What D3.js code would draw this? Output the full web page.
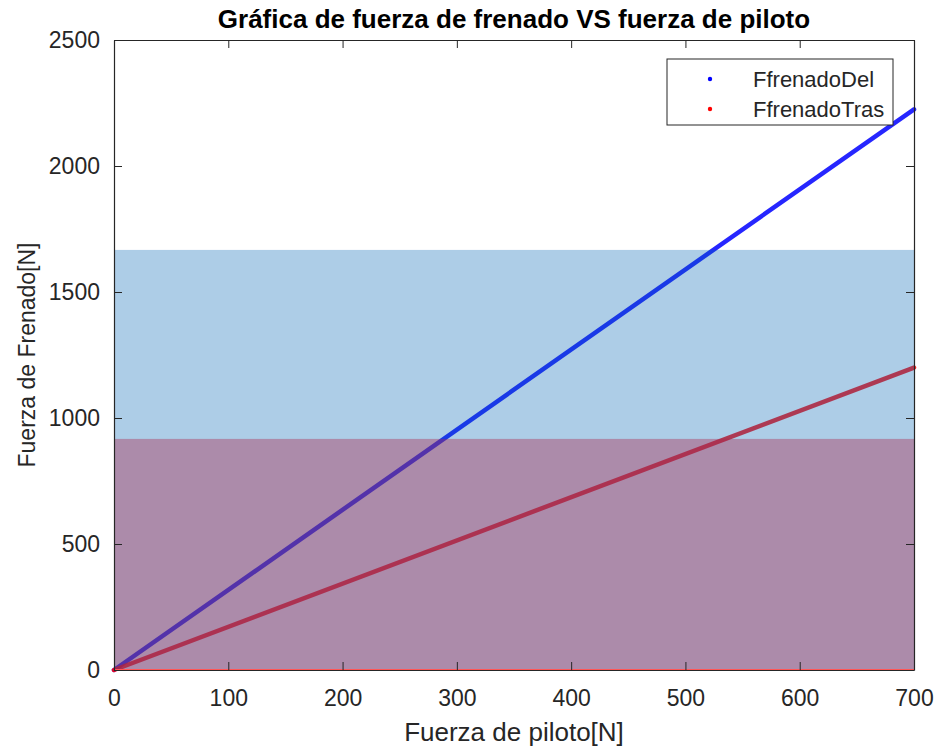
<!DOCTYPE html>
<html>
<head>
<meta charset="utf-8">
<script src="https://cdn.jsdelivr.net/npm/d3@7"></script>
<style>
  html, body { margin: 0; padding: 0; background: #ffffff; }
  svg { display: block; font-family: "Liberation Sans", Arial, sans-serif; }
</style>
</head>
<body>
<svg id="chart" width="937" height="749"></svg>
<script>
// Pilot force (x) and resulting braking forces at the two ends of the range
const pilotForce = [0, 700];
const frenadoDel = [0, 2225];
const frenadoTras = [0, 1200];

// Shaded admissible bands (upper limits of each band, in N)
const bandLimits = [1667, 917];

const xTicks = [0, 100, 200, 300, 400, 500, 600, 700];
const yTicks = [0, 500, 1000, 1500, 2000, 2500];

const seriesNames = ["FfrenadoDel", "FfrenadoTras"];
const seriesColors = ["#0000ff", "#ff0000"];

const svg = d3.select("#chart");
const margin = { left: 114, top: 40, right: 23, bottom: 79 };
const W = 937 - margin.left - margin.right;
const H = 749 - margin.top - margin.bottom;

const x = d3.scaleLinear().domain([0, 700]).range([0, W]);
const y = d3.scaleLinear().domain([0, 2500]).range([H, 0]);

const g = svg.append("g").attr("transform", `translate(${margin.left},${margin.top})`);

// Series drawn as densely packed markers -> thick straight lines
const lineGen = d3.line().x(d => x(d[0])).y(d => y(d[1]));
const series = [
  pilotForce.map((p, i) => [p, frenadoDel[i]]),
  pilotForce.map((p, i) => [p, frenadoTras[i]])
];
series.forEach((s, i) => {
  g.append("path")
    .datum(s)
    .attr("d", lineGen)
    .attr("fill", "none")
    .attr("stroke", seriesColors[i])
    .attr("stroke-opacity", 0.85)
    .attr("stroke-width", 4.5)
    .attr("stroke-linecap", "round");
});

// Translucent bands drawn over the lines
g.append("rect")
  .attr("x", x(0)).attr("y", y(bandLimits[0]))
  .attr("width", x(700) - x(0)).attr("height", y(0) - y(bandLimits[0]))
  .attr("fill", "rgb(0,100,180)").attr("fill-opacity", 0.32);
g.append("rect")
  .attr("x", x(0)).attr("y", y(bandLimits[1]))
  .attr("width", x(700) - x(0)).attr("height", y(0) - y(bandLimits[1]))
  .attr("fill", "rgb(170,40,80)").attr("fill-opacity", 0.4);

// Red edge of the lower band along zero
g.append("line")
  .attr("x1", x(0)).attr("x2", x(700)).attr("y1", y(0)).attr("y2", y(0))
  .attr("stroke", "#ff5555").attr("stroke-width", 2);

// Axes box with inward ticks on all four sides
const axisColor = "#262626";
const tickLen = 8;
const tickFont = 23;
const fmt = d3.format("d");

const xAxis = d3.axisBottom(x).tickValues(xTicks).tickFormat(fmt).tickSizeInner(-tickLen).tickSizeOuter(0).tickPadding(20);
const xAxisTop = d3.axisTop(x).tickValues(xTicks).tickSizeInner(-tickLen).tickSizeOuter(0).tickFormat("");
const yAxis = d3.axisLeft(y).tickValues(yTicks).tickFormat(fmt).tickSizeInner(-tickLen).tickSizeOuter(0).tickPadding(14);
const yAxisRight = d3.axisRight(y).tickValues(yTicks).tickSizeInner(-tickLen).tickSizeOuter(0).tickFormat("");

function styleAxis(sel) {
  sel.select(".domain").attr("stroke", axisColor).attr("stroke-width", 1.2);
  sel.selectAll(".tick line").attr("stroke", axisColor).attr("stroke-width", 1);
  sel.selectAll(".tick text")
    .attr("fill", axisColor)
    .style("font-size", tickFont + "px")
    .style("font-family", '"Liberation Sans", Arial, sans-serif');
}

g.append("g").attr("transform", `translate(0,${H})`).call(xAxis).call(styleAxis);
g.append("g").call(xAxisTop).call(styleAxis);
g.append("g").call(yAxis).call(styleAxis);
g.append("g").attr("transform", `translate(${W},0)`).call(yAxisRight).call(styleAxis);

// Title and axis labels
svg.append("text")
  .attr("x", margin.left + W / 2).attr("y", 28)
  .attr("text-anchor", "middle")
  .attr("fill", "#000")
  .style("font-size", "26px").style("font-weight", "bold")
  .text("Gráfica de fuerza de frenado VS fuerza de piloto");

svg.append("text")
  .attr("x", margin.left + W / 2).attr("y", 741)
  .attr("text-anchor", "middle")
  .attr("fill", axisColor)
  .style("font-size", "26px")
  .text("Fuerza de piloto[N]");

svg.append("text")
  .attr("transform", `translate(35,${margin.top + H / 2}) rotate(-90)`)
  .attr("text-anchor", "middle")
  .attr("fill", axisColor)
  .style("font-size", "23px")
  .text("Fuerza de Frenado[N]");

// Legend
const lg = svg.append("g").attr("transform", "translate(667,59)");
lg.append("rect")
  .attr("width", 226).attr("height", 66)
  .attr("fill", "#fff").attr("stroke", axisColor).attr("stroke-width", 1);
seriesNames.forEach((name, i) => {
  const cy = 20 + i * 30;
  lg.append("circle").attr("cx", 43).attr("cy", cy).attr("r", 2.2).attr("fill", seriesColors[i]);
  lg.append("text")
    .attr("x", 86).attr("y", cy + 8)
    .attr("fill", axisColor)
    .style("font-size", "22px")
    .text(name);
});
</script>
</body>
</html>
